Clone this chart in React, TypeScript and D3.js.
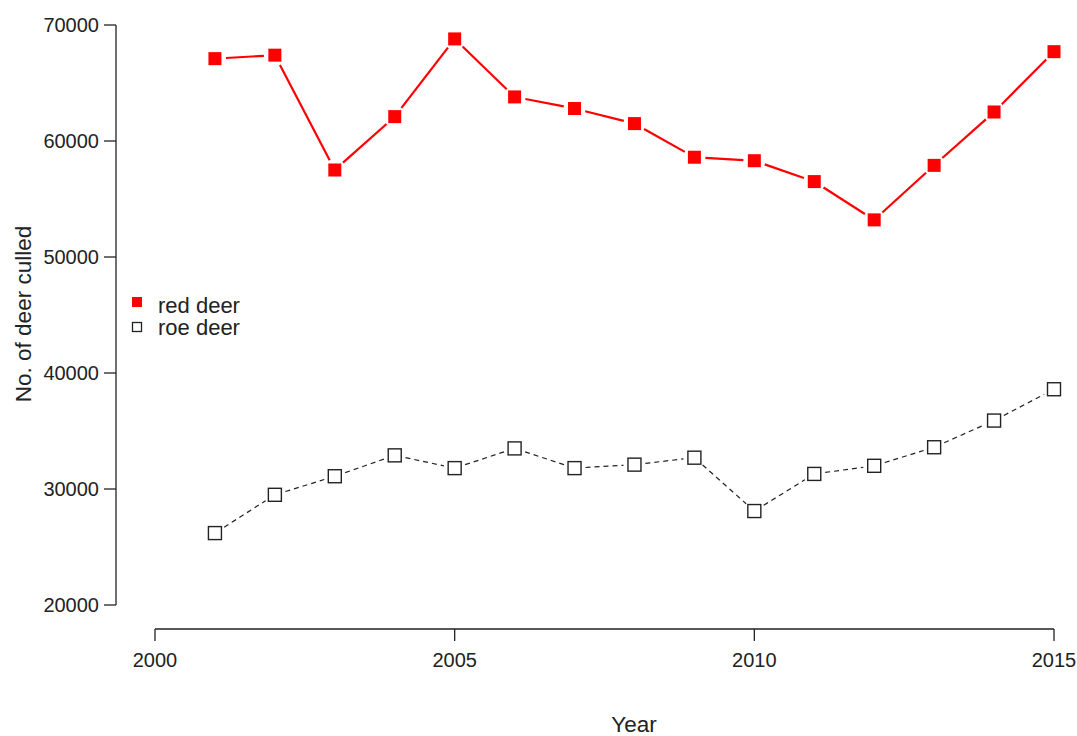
import React from "react";
import * as d3 from "d3";

const years = [2001, 2002, 2003, 2004, 2005, 2006, 2007, 2008, 2009, 2010, 2011, 2012, 2013, 2014, 2015];
const redDeer = [67100, 67400, 57500, 62100, 68800, 63800, 62800, 61500, 58600, 58300, 56500, 53200, 57900, 62500, 67700];
const roeDeer = [26200, 29500, 31100, 32900, 31800, 33500, 31800, 32100, 32700, 28100, 31300, 32000, 33600, 35900, 38600];
const xTicks = [2000, 2005, 2010, 2015];
const yTicks = [20000, 30000, 40000, 50000, 60000, 70000];

const W = 1077;
const H = 736;
const FONT = "'Liberation Sans', Arial, sans-serif";

function gappedSegments(pts: [number, number][], gap: number) {
  const segs: { x1: number; y1: number; x2: number; y2: number }[] = [];
  for (let i = 0; i < pts.length - 1; i++) {
    const [ax, ay] = pts[i];
    const [bx, by] = pts[i + 1];
    const dx = bx - ax;
    const dy = by - ay;
    const len = Math.hypot(dx, dy);
    if (len <= 2 * gap) continue;
    const ux = dx / len;
    const uy = dy / len;
    segs.push({ x1: ax + ux * gap, y1: ay + uy * gap, x2: bx - ux * gap, y2: by - uy * gap });
  }
  return segs;
}

export default function App() {
  const x = d3.scaleLinear().domain([2000, 2015]).range([155, 1054]);
  const y = d3.scaleLinear().domain([20000, 70000]).range([605, 25]);

  const redPts: [number, number][] = years.map((yr, i) => [x(yr), y(redDeer[i])]);
  const roePts: [number, number][] = years.map((yr, i) => [x(yr), y(roeDeer[i])]);
  const redSegs = gappedSegments(redPts, 11);
  const roeSegs = gappedSegments(roePts, 11);

  const axisColor = "#222";
  const ms = 13;

  return (
    <div style={{ position: "absolute", left: 0, top: 0 }}>
      <svg width={W} height={H} style={{ display: "block", background: "#fff" }}>
        {/* Y axis */}
        <line x1={116} x2={116} y1={y(20000)} y2={y(70000)} stroke={axisColor} strokeWidth={1.3} />
        {yTicks.map((t) => (
          <g key={t}>
            <line x1={104} x2={116} y1={y(t)} y2={y(t)} stroke={axisColor} strokeWidth={1.3} />
            <text x={99} y={y(t)} dy="0.35em" textAnchor="end" fontFamily={FONT} fontSize={20} fill="#222">
              {t}
            </text>
          </g>
        ))}
        {/* X axis */}
        <line x1={x(2000)} x2={x(2015)} y1={629} y2={629} stroke={axisColor} strokeWidth={1.3} />
        {xTicks.map((t) => (
          <g key={t}>
            <line x1={x(t)} x2={x(t)} y1={629} y2={641} stroke={axisColor} strokeWidth={1.3} />
            <text x={x(t)} y={667} textAnchor="middle" fontFamily={FONT} fontSize={20} fill="#222">
              {t}
            </text>
          </g>
        ))}
        {/* Axis titles */}
        <text x={634} y={732} textAnchor="middle" fontFamily={FONT} fontSize={22.5} fill="#222">
          Year
        </text>
        <text
          transform={`translate(31, ${314}) rotate(-90)`}
          textAnchor="middle"
          fontFamily={FONT}
          fontSize={22.5}
          fill="#222"
        >
          No. of deer culled
        </text>

        {/* Red deer line */}
        {redSegs.map((s, i) => (
          <line key={"r" + i} {...s} stroke="#ff0000" strokeWidth={2.2} />
        ))}
        {redPts.map(([px, py], i) => (
          <rect key={"rp" + i} x={px - ms / 2} y={py - ms / 2} width={ms} height={ms} fill="#ff0000" />
        ))}

        {/* Roe deer line */}
        {roeSegs.map((s, i) => (
          <line key={"o" + i} {...s} stroke="#222" strokeWidth={1.2} strokeDasharray="5,4" />
        ))}
        {roePts.map(([px, py], i) => (
          <rect
            key={"op" + i}
            x={px - 6.5}
            y={py - 6.5}
            width={13}
            height={13}
            fill="none"
            stroke="#222"
            strokeWidth={1.4}
          />
        ))}

        {/* Legend */}
        <rect x={132} y={297} width={10} height={10} fill="#ff0000" />
        <text x={158} y={313} fontFamily={FONT} fontSize={22} fill="#222">
          red deer
        </text>
        <rect x={132.5} y={322.5} width={9} height={9} fill="none" stroke="#222" strokeWidth={1.3} />
        <text x={158} y={335} fontFamily={FONT} fontSize={22} fill="#222">
          roe deer
        </text>
      </svg>
    </div>
  );
}
